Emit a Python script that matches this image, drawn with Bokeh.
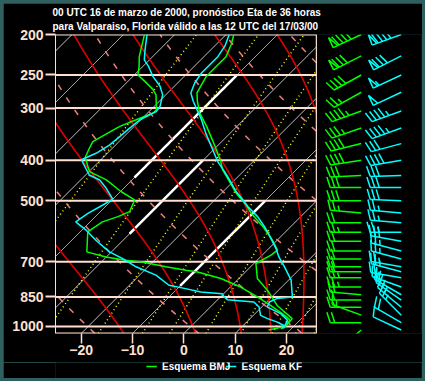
import numpy as np
from bokeh.plotting import figure
from bokeh.layouts import column
from bokeh.models import Range1d, FixedTicker, NumeralTickFormatter
from bokeh.core.properties import value
from bokeh.embed import file_html
from bokeh.resources import INLINE

# ---------------- data ----------------
TITLE = ("00 UTC 16 de marzo de 2000, pronóstico Eta de 36 horas\n"
         "para Valparaiso, Florida válido a las 12 UTC del 17/03/00")
PRESSURE_TICKS = [200, 250, 300, 400, 500, 700, 850, 1000]
TEMP_TICKS = [-20, -10, 0, 10, 20]
SERIES = ["Esquema BMJ", "Esquema KF"]

# Esquema BMJ: temperature and dew point (hPa, degC)
bmj_t_p = [200, 211, 226, 241, 252, 264, 276, 289, 308, 332, 358, 385, 403, 422, 442,
           480, 512, 536, 577, 622, 657, 675, 707, 768, 820, 891, 958, 989, 1014]
bmj_t = [-48.5, -47.1, -45.7, -45.7, -45.7, -45.0, -44.3, -42.6, -39.9, -35.9, -32.1,
         -28.5, -26.3, -24.3, -21.7, -17.1, -12.9, -10.3, -5.4, -0.9, 2.0, 1.7, 0.4,
         3.6, 7.9, 12.7, 18.2, 18.4, 18.0]
bmj_td_p = [200, 213, 226, 238, 250, 259, 271, 279, 303, 308, 320, 332, 348, 361, 374,
            394, 426, 446, 476, 498, 531, 546, 562, 594, 663, 682, 694, 701, 720, 734,
            741, 768, 805, 850, 891, 932, 965, 1000, 1020]
bmj_td = [-65.9, -64.2, -62.6, -60.8, -59.3, -56.7, -53.5, -51.9, -48.9, -48.9, -50.9,
          -52.8, -54.1, -55.1, -54.5, -53.5, -49.9, -45.0, -39.8, -35.6, -34.3, -35.6,
          -37.6, -38.5, -34.8, -30.1, -25.6, -22.0, -16.5, -11.9, -9.3, -3.5, 2.0, 7.2,
          11.4, 15.3, 18.0, 18.4, 15.8]

# Esquema KF
kf_t_p = [200, 213, 226, 234, 247, 261, 276, 289, 300, 320, 345, 378, 403, 426, 446,
          476, 498, 517, 546, 577, 605, 651, 682, 720, 775, 850, 858, 874, 899, 932,
          967, 1011]
kf_t = [-49.4, -48.0, -47.3, -47.3, -47.3, -46.7, -45.5, -43.4, -41.5, -38.2, -34.7,
        -30.1, -26.9, -23.6, -21.0, -17.4, -14.5, -12.2, -8.4, -5.1, -2.5, 1.4, 3.6,
        6.6, 10.5, 14.0, 11.3, 10.5, 11.1, 15.0, 17.6, 18.4]
kf_td_p = [200, 217, 230, 238, 252, 266, 279, 297, 306, 320, 338, 354, 368, 385, 399,
           434, 446, 467, 496, 512, 536, 562, 588, 622, 663, 688, 720, 754, 797, 812,
           827, 835, 850, 863, 874, 899, 941, 958, 977, 995, 1011]
kf_td = [-65.4, -62.9, -61.0, -59.0, -56.1, -52.8, -50.6, -48.9, -48.6, -50.2, -50.6,
         -50.9, -51.2, -52.2, -53.8, -49.3, -46.3, -43.4, -40.0, -40.8, -42.1, -42.8,
         -39.2, -35.3, -30.4, -26.5, -22.3, -16.8, -12.3, -8.4, -4.8, -0.3, 0.7, 1.9,
         7.5, 9.5, 11.4, 13.4, 16.0, 17.9, 18.2]

# wind profiles (hPa, direction deg, speed kt)
barb_p = [200, 225, 250, 275, 305, 335, 365, 400, 435, 465, 500, 535, 565, 595, 625,
          660, 690, 720, 740, 765, 805, 840, 865, 900, 940, 980, 1020]
bmj_dir = [245, 243, 241, 241, 250, 251, 256, 261, 267, 270, 270, 275, 270, 270, 270,
           270, 270, 270, 270, 270, 270, 275, 270, 270, 290, 270, 230]
bmj_spd = [90, 80, 40, 25, 45, 35, 40, 40, 30, 30, 30, 25, 20, 25, 20, 20, 20, 20, 20,
           25, 25, 20, 20, 15, 15, 20, 5]
kf_dir = [250, 243, 245, 245, 250, 250, 255, 260, 268, 270, 272, 275, 275, 270, 280,
          285, 285, 280, 285, 280, 290, 300, 305, 310, 315, 300, 295]
kf_spd = [90, 80, 55, 50, 45, 45, 30, 40, 30, 30, 30, 25, 25, 25, 30, 25, 25, 25, 25,
          20, 20, 20, 20, 25, 25, 20, 10]

# diagram reference lines
ISOTHERMS = list(range(-100, 50, 10))
THICK_ISOTHERMS = [(-10, 800, 500), (-30, 600, 400), (-40, 440, 250)]  # (degC, p_from, p_to)
DRY_THETA = [253, 273, 293, 313, 333, 353, 373, 393]          # K
MOIST_TW = [-14.0, 0.35, 9.6, 15.5, 21.7, 25.6, 28.1]         # degC at 1000 hPa
MIX_RATIO = [0.1, 0.4, 1, 2, 3, 5, 8, 12, 16, 20]              # g/kg
RS_FACTOR = 1.15

# ---------------- geometry ----------------
W, H = 419, 359
ML, MR, MT, MB = 52, 1, 31, 29
FW, FH = W - ML - MR, H - MT - MB
X_MIN, X_SKEW_MAX = -25.0, 25.8
PX_PER_C = 5.135
X_MAX = X_MIN + FW / PX_PER_C
P_TOP, P_BOT = 200.0, 1040.0
PX_PER_LN = FH / np.log(P_BOT / P_TOP)
SKEW = PX_PER_LN / PX_PER_C

PEACH = "#ffe0d0"
GREEN = "#00ff00"
CYAN = "#00ffff"
FONT = "Liberation Sans"


def skx(t, p):
    return np.asarray(t, float) + SKEW * np.log(P_BOT / np.asarray(p, float))


PG = np.exp(np.linspace(np.log(P_BOT), np.log(P_TOP), 2400))


def clip_right(x):
    x = np.array(x, float)
    x[x > X_SKEW_MAX] = np.nan
    return x


def es_hpa(tc):
    return 6.112 * np.exp(17.67 * tc / (tc + 243.5))


def moist_rate(T, p):
    tc = T - 273.15
    es = es_hpa(tc)
    rs = RS_FACTOR * 0.622 * es / (p - es)
    Lv, Rd, cp = 2.501e6, 287.04, 1005.7
    return (Rd * T + Lv * rs) / (cp + Lv * Lv * rs * 0.622 / (Rd * T * T))


def moist_profile(tw):
    out = {}
    for end in (np.log(P_TOP), np.log(P_BOT)):
        grid = np.linspace(np.log(1000.0), end, 1600)
        T = tw + 273.15
        vals = [T]
        for a, b in zip(grid[:-1], grid[1:]):
            h = b - a
            k1 = moist_rate(T, np.exp(a))
            k2 = moist_rate(T + 0.5 * h * k1, np.exp(a + 0.5 * h))
            k3 = moist_rate(T + 0.5 * h * k2, np.exp(a + 0.5 * h))
            k4 = moist_rate(T + h * k3, np.exp(b))
            T = T + h * (k1 + 2 * k2 + 2 * k3 + k4) / 6.0
            vals.append(T)
        out[end] = (grid, np.array(vals))
    gu, vu = out[np.log(P_TOP)]
    gd, vd = out[np.log(P_BOT)]
    g = np.concatenate([gd[::-1], gu[1:]])
    v = np.concatenate([vd[::-1], vu[1:]]) - 273.15
    return np.exp(g), v


p = figure(width=W, height=H, x_range=Range1d(X_MIN, X_MAX),
           y_range=Range1d(P_BOT, P_TOP), y_axis_type="log",
           output_backend="svg", toolbar_location=None,
           min_border_left=ML, min_border_right=MR, min_border_top=MT,
           min_border_bottom=MB, background_fill_color="black",
           border_fill_color="black", outline_line_color=None)
p.xgrid.visible = False
p.ygrid.visible = False

# isotherms
iso_x, iso_y = [], []
for t in ISOTHERMS:
    iso_x.append(list(clip_right(skx(np.full_like(PG, t), PG))))
    iso_y.append(list(PG))
p.multi_line(iso_x, iso_y, line_color="white", line_width=1)

thx, thy = [], []
for t, pa, pb in THICK_ISOTHERMS:
    pp = np.exp(np.linspace(np.log(pa), np.log(pb), 50))
    thx.append(list(clip_right(skx(np.full_like(pp, t), pp))))
    thy.append(list(pp))
p.multi_line(thx, thy, line_color="white", line_width=2.5)

# mixing ratio lines
mx, my = [], []
for w in MIX_RATIO:
    es = w * PG / (622.0 + w)
    l = np.log(es / 6.112)
    tc = 243.5 * l / (17.67 - l)
    mx.append(list(clip_right(skx(tc, PG))))
    my.append(list(PG))
p.multi_line(mx, my, line_color="#ffff00", line_width=1.5, line_dash="1 3")

# dry adiabats
dx, dy = [], []
for th in DRY_THETA:
    tc = th * (PG / 1000.0) ** 0.2857 - 273.15
    dx.append(list(clip_right(skx(tc, PG))))
    dy.append(list(PG))
p.multi_line(dx, dy, line_color="#f08080", line_width=1.5, line_dash="6 9")

# moist adiabats
wx, wy = [], []
for tw in MOIST_TW:
    pp, tc = moist_profile(tw)
    wx.append(list(clip_right(skx(tc, pp))))
    wy.append(list(pp))
p.multi_line(wx, wy, line_color="#e00000", line_width=1.6)

# isobars and box
p.multi_line([[X_MIN, X_SKEW_MAX] for _ in PRESSURE_TICKS],
             [[pr, pr] for pr in PRESSURE_TICKS], line_color=PEACH, line_width=2)
p.line([X_SKEW_MAX, X_SKEW_MAX], [P_TOP, P_BOT], line_color=PEACH, line_width=1.2)
p.line([X_MIN, X_SKEW_MAX], [P_BOT, P_BOT], line_color=PEACH, line_width=2)

# soundings
p.line(skx(bmj_t, bmj_t_p), bmj_t_p, line_color=GREEN, line_width=1.5)
p.line(skx(bmj_td, bmj_td_p), bmj_td_p, line_color=GREEN, line_width=1.5)
p.line(skx(kf_t, kf_t_p), kf_t_p, line_color=CYAN, line_width=1.5)
p.line(skx(kf_td, kf_td_p), kf_td_p, line_color=CYAN, line_width=1.5)


# wind barbs
def barbs(x0, pres, dirs, spds):
    xs, ys = [], []
    L, LF, SP, PW, lean = 31.0, 11.0, 4.5, 5.0, np.radians(18)

    def conv(pts, pb):
        return ([x0 + px / PX_PER_C for px, _ in pts],
                [pb * np.exp(py / PX_PER_LN) for _, py in pts])

    for pb, d, s in zip(pres, dirs, spds):
        r = np.radians(d)
        u = np.array([np.sin(r), -np.cos(r)])
        n = np.array([np.cos(r), np.sin(r)])
        f = np.cos(lean) * n + np.sin(lean) * u
        segs = [[(0.0, 0.0), tuple(L * u)]]
        s = int(5 * round(s / 5.0))
        n50, rem = divmod(s, 50)
        n10, rem = divmod(rem, 10)
        n5 = rem // 5
        pos = L
        for _ in range(n50):
            a = pos * u
            b = (pos - PW) * u
            apex = pos * u + LF * n
            segs.append([tuple(a), tuple(apex), tuple(b)])
            pos -= PW + 1.5
        for _ in range(n10):
            a = pos * u
            segs.append([tuple(a), tuple(a + LF * f)])
            pos -= SP
        if n5:
            if s < 10:
                pos = L - SP
            a = pos * u
            segs.append([tuple(a), tuple(a + 0.5 * LF * f)])
        for sg in segs:
            gx, gy = conv(sg, pb)
            xs.append(gx)
            ys.append(gy)
    return xs, ys


bx, by = barbs((360.7 - 183.3) / PX_PER_C, barb_p, bmj_dir, bmj_spd)
p.multi_line(bx, by, line_color=GREEN, line_width=1.5)
kx, ky = barbs((400.7 - 183.3) / PX_PER_C, barb_p, kf_dir, kf_spd)
p.multi_line(kx, ky, line_color=CYAN, line_width=1.5)

# axes
for ax in (p.xaxis[0], p.yaxis[0]):
    ax.major_tick_out = 10
    ax.major_tick_in = 0
    ax.minor_tick_out = 0
    ax.minor_tick_in = 0
    ax.major_tick_line_color = PEACH
    ax.major_label_text_color = PEACH
    ax.major_label_text_font = FONT
    ax.major_label_text_font_size = "14px"
    ax.major_label_text_font_style = "bold"
p.yaxis.ticker = FixedTicker(ticks=PRESSURE_TICKS)
p.yaxis.formatter = NumeralTickFormatter(format="0")
p.yaxis.axis_line_color = PEACH
p.yaxis.major_tick_line_width = 2
p.yaxis.major_label_standoff = 2
p.xaxis.ticker = FixedTicker(ticks=TEMP_TICKS)
p.xaxis.axis_line_color = None
p.xaxis.major_tick_line_width = 1.5
p.xaxis.major_label_standoff = 1

# title
p.title.text = TITLE
p.title.align = "left"
p.title.offset = -3
p.title.text_color = "white"
p.title.text_font = FONT
p.title.text_font_size = "10px"
p.title.text_font_style = "bold"
p.title.text_line_height = 1.3
p.title.standoff = 4

# legend strip underneath
pl = figure(width=W, height=16, x_range=Range1d(0, W), y_range=Range1d(0, 16),
            output_backend="svg", toolbar_location=None, min_border=0,
            x_axis_location=None, y_axis_location=None,
            background_fill_color="black", border_fill_color="black",
            outline_line_color=None)
pl.xgrid.visible = False
pl.ygrid.visible = False
pl.segment(x0=[104, 195], y0=[12, 12], x1=[116, 207], y1=[12, 12],
           line_color=[GREEN, CYAN], line_width=1.5)
pl.text(x=[122, 213], y=[12.5, 12.5], text=SERIES, text_color="white",
        text_font=value(FONT), text_font_size="10px", text_font_style="bold",
        text_baseline="middle")

layout = column(p, pl, spacing=0)

html = file_html(layout, INLINE, title="Skew-T Valparaiso")
style = ("<style>html{background:#2f5f5f !important;}"
         "body{padding:3px !important;margin:0 !important;box-sizing:border-box !important;"
         "background:#2f5f5f !important;overflow:hidden;}</style>")
html = html.replace("</head>", style + "</head>", 1)
open("out.html", "w").write(html)
